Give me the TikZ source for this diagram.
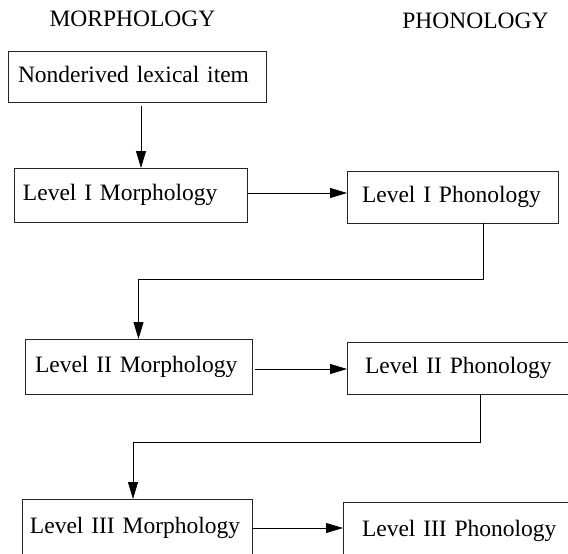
\documentclass[tikz,border=0pt]{standalone}
\usepackage{fontspec}
\setmainfont{Liberation Serif}
\usetikzlibrary{arrows.meta,positioning}
\tikzset{%
  >={Triangle[width=10pt,length=17pt]},
  % Specifications for style of nodes:
         base/.style = {rectangle, draw=black!85, line width=1pt,
                        anchor=north west, outer sep=0pt, inner ysep=0pt,
                        align=left, text height=16pt, text depth=5pt},
    morphItem/.style = {base, inner xsep=10pt},
     phonItem/.style = {base, inner xsep=16pt},
         head/.style = {anchor=base},
}

\begin{document}
\begin{tikzpicture}[x=1pt, y=-1pt, line width=0.8pt,
    every node/.style={font=\fontsize{23.5}{28}\selectfont}]

\useasboundingbox (0,0) rectangle (568,554);
\clip (0,0) rectangle (568,554);

\node (morphHead) [head] at (132.5,27) {MORPHOLOGY};
\node (phonHead)  [head] at (475.5,28) {PHONOLOGY};

\node (ND) [morphItem, text width=238pt, minimum height=51pt]
      at (8,51) {Nonderived lexical item};

\node (M1) [morphItem, inner xsep=9pt, text width=215pt, minimum height=54pt]
      at (14,168) {Level I Morphology};
\node (P1) [phonItem, inner xsep=15pt, text width=181pt, minimum height=52pt]
      at (347,171) {Level I Phonology};

\node (M2) [morphItem, text width=207pt, minimum height=55pt]
      at (25,339) {Level II Morphology};
\node (P2) [phonItem, inner xsep=18pt, text width=194pt, minimum height=52pt]
      at (347,342) {Level II Phonology};

\node (M3) [morphItem, inner xsep=8pt, text width=214pt, minimum height=58pt]
      at (22,499) {\mbox{Level III Morphology}};
\node (P3) [phonItem, inner xsep=19pt, text width=202pt, minimum height=58pt]
      at (343,502) {\mbox{Level III Phonology}};

\draw[->, shorten <=4pt] ([xshift=4pt]ND.south) -- ([xshift=4pt]ND.south |- M1.north);
\draw[->, shorten <=1pt] ([yshift=2pt]M1.east) -- ([yshift=2pt]M1.east -| P1.west);
\draw[->]                ([xshift=30.5pt]P1.south) -- ++(0,56) -| (M2.north);
\draw[->, shorten <=3pt] ([yshift=-2.5pt]M2.east) -- ([yshift=-2.5pt]M2.east -| P2.west);
\draw[->]                ([xshift=18pt]P2.south) -- ++(0,48) -| ([xshift=-4pt]M3.north);
\draw[->, shorten <=1pt] (M3.east) -- (M3.east -| P3.west);
  \end{tikzpicture}
\end{document}
